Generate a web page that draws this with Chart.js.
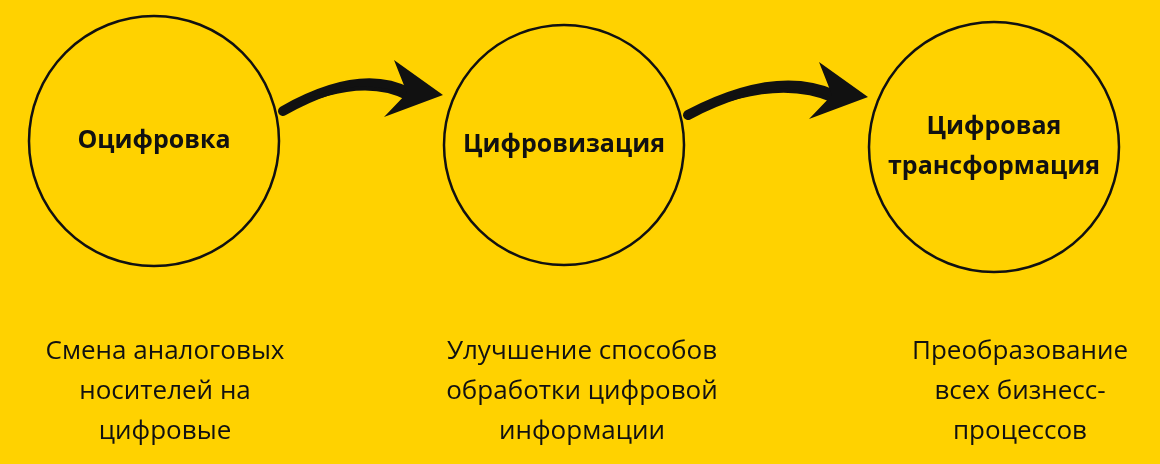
<!DOCTYPE html>
<html><head><meta charset="utf-8">
<script src="https://cdn.jsdelivr.net/npm/chart.js@4"></script>
<style>html,body{margin:0;padding:0;background:#FFD200;overflow:hidden;}</style>
</head><body><canvas id="c" width="1160" height="464"></canvas>
<script>
const stages = [["Оцифровка"], ["Цифровизация"], ["Цифровая", "трансформация"]];
const descriptions = [
  ["Смена аналоговых", "носителей на", "цифровые"],
  ["Улучшение способов", "обработки цифровой", "информации"],
  ["Преобразование", "всех бизнесс-", "процессов"]
];
const nodeX = [154, 564, 994];
const nodeY = [141, 145, 147];
const nodeR = [125, 120, 125];
const descX = [165, 582, 1020];

const labelPlugin = {
  id: 'labels',
  afterDatasetsDraw(chart) {
    const ctx = chart.ctx, xs = chart.scales.x, ys = chart.scales.y;
    ctx.save();
    ctx.textAlign = 'center'; ctx.textBaseline = 'middle'; ctx.fillStyle = '#111';
    stages.forEach((lines, i) => {
      ctx.font = 'bold 25px "Open Sans", sans-serif';
      const cx = xs.getPixelForValue(nodeX[i]), cy = ys.getPixelForValue(nodeY[i]);
      const lh = 40, y0 = cy - (lines.length - 1) * lh / 2;
      lines.forEach((t, k) => ctx.fillText(t, cx, y0 + k * lh));
    });
    descriptions.forEach((lines, i) => {
      ctx.font = '26px "Open Sans", sans-serif';
      lines.forEach((t, k) => ctx.fillText(t, xs.getPixelForValue(descX[i]), ys.getPixelForValue(352 + k * 40)));
    });
    for (let i = 0; i < nodeX.length - 1; i++) {
      const sx = xs.getPixelForValue(nodeX[i] + nodeR[i] + 4), sy = ys.getPixelForValue(nodeY[i] - 30);
      const ex = xs.getPixelForValue(nodeX[i+1] - nodeR[i+1] - 5), ey = ys.getPixelForValue(nodeY[i+1] - 50);
      const mx = (sx + ex) / 2, my = Math.min(sy, ey) - 28;
      ctx.strokeStyle = '#111'; ctx.lineCap = 'round';
      ctx.lineWidth = 10;
      ctx.beginPath(); ctx.moveTo(sx, sy); ctx.quadraticCurveTo(mx, my, ex - 30, ey - 2); ctx.stroke();
      ctx.lineWidth = 4;
      ctx.beginPath(); ctx.moveTo(sx, sy); ctx.quadraticCurveTo(mx, my + 6, ex - 30, ey + 4); ctx.stroke();
      ctx.fillStyle = '#111';
      ctx.beginPath();
      ctx.moveTo(ex + 4, ey);
      ctx.lineTo(ex - 45, ey - 35);
      ctx.lineTo(ex - 32, ey - 2);
      ctx.lineTo(ex - 55, ey + 22);
      ctx.closePath(); ctx.fill();
    }
    ctx.restore();
  }
};

new Chart(document.getElementById('c'), {
  type: 'scatter',
  data: { datasets: [{
    data: nodeX.map((x, i) => ({x, y: nodeY[i]})),
    pointRadius: nodeR, pointHoverRadius: nodeR, clip: false,
    backgroundColor: 'rgba(0,0,0,0)', borderColor: '#111', borderWidth: 2.5
  }]},
  options: {
    responsive: false, animation: false, devicePixelRatio: 1,
    layout: { padding: 0, autoPadding: false },
    plugins: { legend: { display: false }, tooltip: { enabled: false } },
    scales: {
      x: { type: 'linear', min: 0, max: 1160, display: false },
      y: { type: 'linear', min: 0, max: 464, reverse: true, display: false }
    }
  },
  plugins: [labelPlugin]
});
</script></body></html>
